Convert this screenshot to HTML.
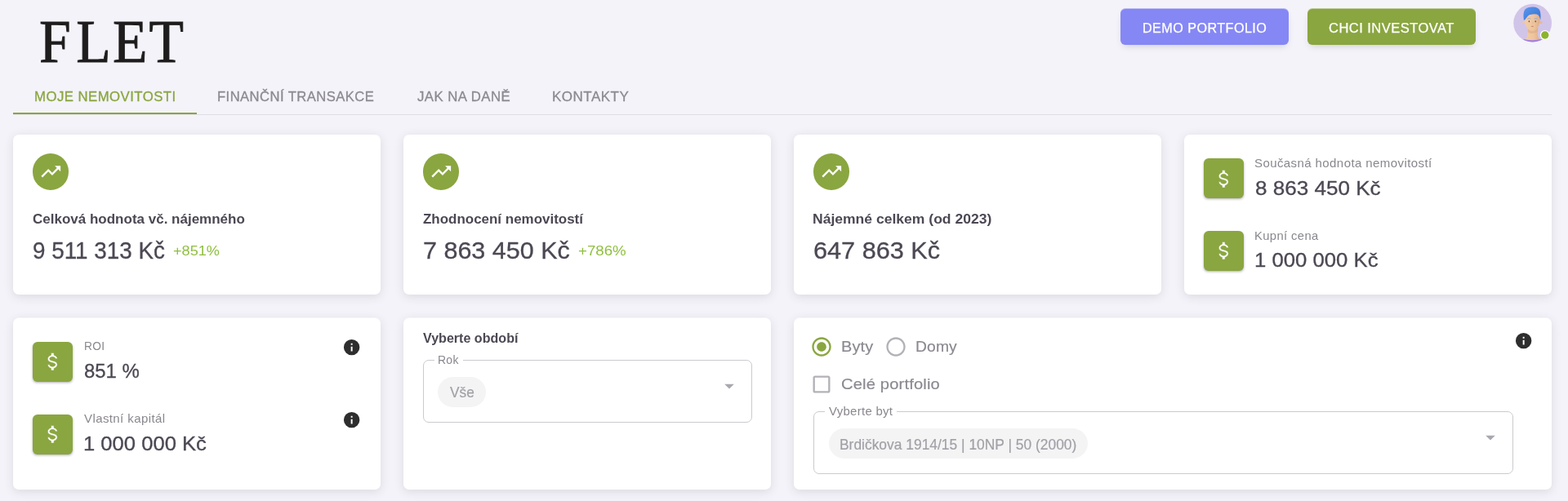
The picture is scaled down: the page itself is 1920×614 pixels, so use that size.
<!DOCTYPE html>
<html lang="cs">
<head>
<meta charset="utf-8">
<title>FLET</title>
<style>
*{box-sizing:border-box;margin:0;padding:0}
html,body{width:1920px;height:614px;overflow:hidden}
body{position:relative;background:#f4f3f9;font-family:"Liberation Sans",sans-serif;color:#4c4853}
.a{position:absolute;white-space:nowrap;line-height:1;transform-origin:0 0}
.logo{font-family:"Liberation Serif",serif;color:#1e1c1c;letter-spacing:2.4px;-webkit-text-stroke:.9px #1e1c1c}
.logo::first-letter{letter-spacing:7px}
.btn{position:absolute;top:11px;height:44px;width:206px;border-radius:6px}
.bt{letter-spacing:.45px;color:#fff;-webkit-text-stroke:.25px #fff}
.tab{letter-spacing:.45px;color:#8c8991;-webkit-text-stroke:.3px currentColor}
.on{color:#8aa640}
.card{position:absolute;width:450px;background:#fff;border-radius:7px;box-shadow:0 2.4px 11.7px 0 rgba(58,53,65,.125)}
.r1{top:164.7px;height:196.5px}
.r2{top:390px;height:210px;box-shadow:0 -1px 0 0 rgba(255,255,255,.5),0 2.4px 11.7px 0 rgba(58,53,65,.125)}
.circ{position:absolute;width:44.5px;height:44.5px;border-radius:50%;background:#8aa640;top:188.3px}
.sq{position:absolute;width:49px;height:49px;border-radius:6px;background:#8aa640;box-shadow:0 1.5px 3px -.5px rgba(58,53,65,.4)}
.t6{font-weight:bold;color:#4c4853}
.h5{color:#4c4853;-webkit-text-stroke:.3px currentColor}
.h6{color:#4c4853;-webkit-text-stroke:.3px currentColor}
.cap{color:#8a878e;letter-spacing:.4px}
.pct{color:#8fbf3f}
.b1{letter-spacing:.15px;color:#8c8991;-webkit-text-stroke:.2px currentColor}
.lbl{color:#8a878e;letter-spacing:.3px}
.lg{position:absolute;background:#fff;height:3px}
.sel{position:absolute;border:1.2px solid #cbcacf;border-radius:7px}
.chip{position:absolute;height:37px;border-radius:19px;background:#f4f4f5}
.chipt{color:#a2a0a6;-webkit-text-stroke:.2px currentColor}
</style>
</head>
<body>
<header>
<div id="logo" class="a logo" style="left:47.71px;top:14px;font-size:74.4px;transform:scaleX(0.9344)">FLET</div>
<div class="btn" style="left:1372px;background:#8587f5;box-shadow:0 -1px 0 0 rgba(133,135,245,.5),0 4.7px 9.3px -4.7px rgba(58,53,65,.27)"></div>
<div id="b1" class="a bt" style="left:1399.14px;top:26px;font-size:16.3px;transform:scaleX(0.9923)">DEMO PORTFOLIO</div>
<div class="btn" style="left:1601px;background:#8aa640;box-shadow:0 -1px 0 0 rgba(138,166,64,.5),0 4.7px 9.3px -4.7px rgba(58,53,65,.27)"></div>
<div id="b2" class="a bt" style="left:1627.08px;top:26px;font-size:16.3px;transform:scaleX(1.0158)">CHCI INVESTOVAT</div>
<svg class="a" style="left:1846px;top:0" width="60" height="56" viewBox="0 0 60 56">
  <defs>
    <clipPath id="av"><circle cx="30.65" cy="28.2" r="23.4"/></clipPath>
    <linearGradient id="hr" x1="0" y1="0" x2="1" y2="1"><stop offset="0" stop-color="#5c98ec"/><stop offset=".55" stop-color="#4482df"/><stop offset="1" stop-color="#3a74d2"/></linearGradient>
    <linearGradient id="sk" x1="0" y1="0" x2="1" y2="0"><stop offset="0" stop-color="#f2cda8"/><stop offset=".6" stop-color="#eec49d"/><stop offset="1" stop-color="#dcae88"/></linearGradient>
  </defs>
  <circle cx="30.65" cy="28.2" r="23.4" fill="#d1c4e9"/>
  <g clip-path="url(#av)">
    <path d="M18.5 48.6 Q30.5 45.5 43.5 48.6 L44 56 L18 56Z" fill="#a17fe2"/>
    <path d="M24.6 33 L24.2 43.5 Q23.6 46.8 21.2 48.3 Q30.5 50.2 39.4 48.3 Q37.2 46.6 37 43.5 L37.2 33Z" fill="url(#sk)"/>
    <path d="M24.8 35.5 Q30.5 40.5 37.1 35 L37.1 38.5 Q31 43 24.6 39.5Z" fill="#d9a985" opacity=".55"/>
    <circle cx="19.9" cy="27.4" r="1.6" fill="#efc6a0"/><circle cx="40.9" cy="27.4" r="1.6" fill="#e6b994"/>
    <path d="M20.8 20 Q20.6 28.5 23 32.6 Q26 37 30.3 37.2 Q34.8 37 37.6 32.6 Q40 28.5 39.8 20 Q30 13 20.8 20Z" fill="url(#sk)"/>
    <path d="M19.9 24.8 Q18.6 15.5 21.2 11.8 Q24.5 8.4 31 8.5 Q37.6 8.7 39.6 13 Q41 17 40.3 24.6 Q39.6 20.5 37.6 18.4 Q36 17.2 31 17.4 Q26.6 17.4 25 19.4 Q23 21.6 21.6 24 Z" fill="url(#hr)"/>
    <path d="M24.6 22.9 Q26.3 22.2 28 22.9" stroke="#8fa6dc" stroke-width=".9" fill="none" stroke-linecap="round"/>
    <path d="M32.8 22.9 Q34.5 22.2 36.2 22.9" stroke="#8fa6dc" stroke-width=".9" fill="none" stroke-linecap="round"/>
    <ellipse cx="26.4" cy="26.2" rx=".75" ry="1" fill="#5b4a44"/><ellipse cx="34.2" cy="26.2" rx=".75" ry="1" fill="#5b4a44"/>
    <path d="M28.6 32 Q30.3 31.5 32.2 32 Q30.4 33.9 28.6 32Z" fill="#b98267"/>
    <path d="M30.8 26.5 Q31.6 28.6 30.6 29.4" stroke="#e0b28c" stroke-width=".7" fill="none"/>
  </g>
  <circle cx="45.8" cy="43" r="6" fill="#fff"/>
  <circle cx="45.8" cy="43" r="4.7" fill="#8bb42c"/>
</svg>
</header>
<nav>
<div class="a" style="left:16.3px;top:140px;width:1884px;height:1.2px;background:#dfdee4"></div>
<div class="a" style="left:16.3px;top:138px;width:224.5px;height:2.4px;background:#8aa640"></div>
<div id="t1" class="a tab on" style="left:41.57px;top:110px;font-size:16.3px;transform:scaleX(1.0288)">MOJE NEMOVITOSTI</div>
<div id="t2" class="a tab" style="left:265.93px;top:110px;font-size:16.3px;transform:scaleX(1.0190)">FINANČNÍ TRANSAKCE</div>
<div id="t3" class="a tab" style="left:510.51px;top:110px;font-size:16.3px;transform:scaleX(1.0300)">JAK NA DANĚ</div>
<div id="t4" class="a tab" style="left:676.48px;top:110px;font-size:16.3px;transform:scaleX(1.0451)">KONTAKTY</div>
</nav>
<main>
<section>
<div class="card r1" style="left:16.2px"></div>
<div class="circ" style="left:39.7px"></div><svg class="a" style="left:47.7px;top:196.2px" width="28.5" height="28.5" viewBox="0 0 24 24"><path fill="#fff" d="M16,6L18.29,8.29L13.41,13.17L9.41,9.17L2,16.59L3.41,18L9.41,12L13.41,16L19.71,9.71L22,12V6H16Z"/></svg>
<div id="c1t" class="a t6" style="left:40.46px;top:260px;font-size:16.5px;transform:scaleX(1.0306)">Celková hodnota vč. nájemného</div>
<div id="c1n" class="a h5" style="left:39.53px;top:292px;font-size:29.3px;transform:scaleX(0.9493)">9 511 313 Kč</div>
<div id="c1p" class="a pct" style="left:212.14px;top:299px;font-size:17.3px;transform:scaleX(1.0494)">+851%</div>
</section>
<section>
<div class="card r1" style="left:494.2px"></div>
<div class="circ" style="left:517.7px"></div><svg class="a" style="left:525.7px;top:196.2px" width="28.5" height="28.5" viewBox="0 0 24 24"><path fill="#fff" d="M16,6L18.29,8.29L13.41,13.17L9.41,9.17L2,16.59L3.41,18L9.41,12L13.41,16L19.71,9.71L22,12V6H16Z"/></svg>
<div id="c2t" class="a t6" style="left:518.18px;top:260px;font-size:16.5px;transform:scaleX(1.0276)">Zhodnocení nemovitostí</div>
<div id="c2n" class="a h5" style="left:517.82px;top:292px;font-size:29.3px;transform:scaleX(1.0412)">7 863 450 Kč</div>
<div id="c2p" class="a pct" style="left:707.57px;top:299px;font-size:17.3px;transform:scaleX(1.0814)">+786%</div>
</section>
<section>
<div class="card r1" style="left:972.2px"></div>
<div class="circ" style="left:995.7px"></div><svg class="a" style="left:1003.7px;top:196.2px" width="28.5" height="28.5" viewBox="0 0 24 24"><path fill="#fff" d="M16,6L18.29,8.29L13.41,13.17L9.41,9.17L2,16.59L3.41,18L9.41,12L13.41,16L19.71,9.71L22,12V6H16Z"/></svg>
<div id="c3t" class="a t6" style="left:995.09px;top:260px;font-size:16.5px;transform:scaleX(1.0626)">Nájemné celkem (od 2023)</div>
<div id="c3n" class="a h5" style="left:995.64px;top:292px;font-size:29.3px;transform:scaleX(1.0462)">647 863 Kč</div>
</section>
<section>
<div class="card r1" style="left:1450.2px"></div>
<div class="sq" style="left:1473.8px;top:194.1px"></div><svg class="a" style="left:1484.0px;top:204.5px" width="28.6" height="28.6" viewBox="0 0 24 24"><path fill="#fff" d="M7,15H9C9,16.08 10.37,17 12,17C13.63,17 15,16.08 15,15C15,13.9 13.96,13.5 11.76,12.97C9.64,12.44 7,11.78 7,9C7,7.21 8.47,5.69 10.5,5.18V3H13.5V5.18C15.53,5.69 17,7.21 17,9H15C15,7.92 13.63,7 12,7C10.37,7 9,7.92 9,9C9,10.1 10.04,10.5 12.24,11.03C14.36,11.56 17,12.22 17,15C17,16.79 15.53,18.31 13.5,18.82V21H10.5V18.82C8.47,18.31 7,16.79 7,15Z" stroke="#8aa640" stroke-width=".5"/></svg>
<div id="c4c1" class="a cap" style="left:1536.32px;top:193px;font-size:14.8px;transform:scaleX(1.0147)">Současná hodnota nemovitostí</div>
<div id="c4v1" class="a h6" style="left:1536.76px;top:220px;font-size:23.4px;transform:scaleX(1.1144)">8 863 450 Kč</div>
<div class="sq" style="left:1473.8px;top:283.0px"></div><svg class="a" style="left:1484.0px;top:293.4px" width="28.6" height="28.6" viewBox="0 0 24 24"><path fill="#fff" d="M7,15H9C9,16.08 10.37,17 12,17C13.63,17 15,16.08 15,15C15,13.9 13.96,13.5 11.76,12.97C9.64,12.44 7,11.78 7,9C7,7.21 8.47,5.69 10.5,5.18V3H13.5V5.18C15.53,5.69 17,7.21 17,9H15C15,7.92 13.63,7 12,7C10.37,7 9,7.92 9,9C9,10.1 10.04,10.5 12.24,11.03C14.36,11.56 17,12.22 17,15C17,16.79 15.53,18.31 13.5,18.82V21H10.5V18.82C8.47,18.31 7,16.79 7,15Z" stroke="#8aa640" stroke-width=".5"/></svg>
<div id="c4c2" class="a cap" style="left:1536.16px;top:282px;font-size:14.8px;transform:scaleX(0.9965)">Kupní cena</div>
<div id="c4v2" class="a h6" style="left:1535.78px;top:308px;font-size:23.4px;transform:scaleX(1.0992)">1 000 000 Kč</div>
</section>
<section>
<div class="card r2" style="left:16.2px"></div>
<div class="sq" style="left:39.9px;top:418.7px"></div><svg class="a" style="left:50.1px;top:429.1px" width="28.6" height="28.6" viewBox="0 0 24 24"><path fill="#fff" d="M7,15H9C9,16.08 10.37,17 12,17C13.63,17 15,16.08 15,15C15,13.9 13.96,13.5 11.76,12.97C9.64,12.44 7,11.78 7,9C7,7.21 8.47,5.69 10.5,5.18V3H13.5V5.18C15.53,5.69 17,7.21 17,9H15C15,7.92 13.63,7 12,7C10.37,7 9,7.92 9,9C9,10.1 10.04,10.5 12.24,11.03C14.36,11.56 17,12.22 17,15C17,16.79 15.53,18.31 13.5,18.82V21H10.5V18.82C8.47,18.31 7,16.79 7,15Z" stroke="#8aa640" stroke-width=".5"/></svg>
<div id="c5c1" class="a cap" style="left:102.82px;top:417px;font-size:14.8px;transform:scaleX(0.9269)">ROI</div>
<div id="c5v1" class="a h6" style="left:102.77px;top:444px;font-size:23.4px;transform:scaleX(1.0212)">851 %</div>
<svg class="a" style="left:419.2px;top:414.3px" width="23.3" height="23.3" viewBox="0 0 24 24"><path fill="#2e2e2e" d="M13,9H11V7H13M13,17H11V11H13M12,2A10,10 0 0,0 2,12A10,10 0 0,0 12,22A10,10 0 0,0 22,12A10,10 0 0,0 12,2Z"/></svg>
<div class="sq" style="left:39.9px;top:507.6px"></div><svg class="a" style="left:50.1px;top:518.0px" width="28.6" height="28.6" viewBox="0 0 24 24"><path fill="#fff" d="M7,15H9C9,16.08 10.37,17 12,17C13.63,17 15,16.08 15,15C15,13.9 13.96,13.5 11.76,12.97C9.64,12.44 7,11.78 7,9C7,7.21 8.47,5.69 10.5,5.18V3H13.5V5.18C15.53,5.69 17,7.21 17,9H15C15,7.92 13.63,7 12,7C10.37,7 9,7.92 9,9C9,10.1 10.04,10.5 12.24,11.03C14.36,11.56 17,12.22 17,15C17,16.79 15.53,18.31 13.5,18.82V21H10.5V18.82C8.47,18.31 7,16.79 7,15Z" stroke="#8aa640" stroke-width=".5"/></svg>
<div id="c5c2" class="a cap" style="left:103.30px;top:506px;font-size:14.8px;transform:scaleX(1.0137)">Vlastní kapitál</div>
<div id="c5v2" class="a h6" style="left:102.11px;top:533px;font-size:23.4px;transform:scaleX(1.0945)">1 000 000 Kč</div>
<svg class="a" style="left:419.2px;top:503.1px" width="23.3" height="23.3" viewBox="0 0 24 24"><path fill="#2e2e2e" d="M13,9H11V7H13M13,17H11V11H13M12,2A10,10 0 0,0 2,12A10,10 0 0,0 12,22A10,10 0 0,0 22,12A10,10 0 0,0 12,2Z"/></svg>
</section>
<section>
<div class="card r2" style="left:494.2px"></div>
<div id="c6t" class="a t6" style="left:518.04px;top:406px;font-size:16.5px;transform:scaleX(0.9746)">Vyberte období</div>
<div class="sel" style="left:518px;top:441.3px;width:403px;height:76.5px"></div><div class="lg" style="left:531.5px;top:440px;width:35.5px"></div>
<div id="c6l" class="a lbl" style="left:535.67px;top:434px;font-size:14.8px;transform:scaleX(0.9421)">Rok</div>
<div class="chip" style="left:536.4px;top:462px;width:58.4px"></div>
<div id="c6c" class="a chipt" style="left:550.78px;top:473px;font-size:17.8px;transform:scaleX(0.9707)">Vše</div>
<svg class="a" style="left:879.0px;top:459.1px" width="28" height="28" viewBox="0 0 24 24"><path fill="#aaa8ae" d="M7 10l5 5 5-5z"/></svg>
</section>
<section>
<div class="card r2" style="left:972.2px;width:928px"></div>
<svg class="a" style="left:992.3px;top:410.5px" width="28" height="28" viewBox="0 0 24 24"><path fill="#8aa640" d="M12 7c-2.76 0-5 2.24-5 5s2.24 5 5 5 5-2.24 5-5-2.24-5-5-5zm0-5C6.48 2 2 6.48 2 12s4.48 10 10 10 10-4.48 10-10S17.52 2 12 2zm0 18c-4.42 0-8-3.58-8-8s3.58-8 8-8 8 3.58 8 8-3.58 8-8 8z"/></svg>
<div id="c7r1" class="a b1" style="left:1029.76px;top:415px;font-size:19.0px;transform:scaleX(1.0473)">Byty</div>
<svg class="a" style="left:1083.2px;top:410.5px" width="28" height="28" viewBox="0 0 24 24"><path fill="#b3b1b7" d="M12 2C6.48 2 2 6.48 2 12s4.48 10 10 10 10-4.48 10-10S17.52 2 12 2zm0 18c-4.42 0-8-3.58-8-8s3.58-8 8-8 8 3.58 8 8-3.58 8-8 8z"/></svg>
<div id="c7r2" class="a b1" style="left:1120.75px;top:415px;font-size:19.0px;transform:scaleX(1.0129)">Domy</div>
<svg class="a" style="left:992.3px;top:457.2px" width="28" height="28" viewBox="0 0 24 24"><path fill="#b3b1b7" d="M19 5v14H5V5h14m0-2H5c-1.1 0-2 .9-2 2v14c0 1.1.9 2 2 2h14c1.1 0 2-.9 2-2V5c0-1.1-.9-2-2-2z"/></svg>
<div id="c7cb" class="a b1" style="left:1029.65px;top:461px;font-size:19.0px;transform:scaleX(1.0602)">Celé portfolio</div>
<svg class="a" style="left:1853.6px;top:405.9px" width="23.3" height="23.3" viewBox="0 0 24 24"><path fill="#2e2e2e" d="M13,9H11V7H13M13,17H11V11H13M12,2A10,10 0 0,0 2,12A10,10 0 0,0 12,22A10,10 0 0,0 22,12A10,10 0 0,0 12,2Z"/></svg>
<div class="sel" style="left:995.8px;top:504.3px;width:857.5px;height:76.5px"></div><div class="lg" style="left:1009.5px;top:503px;width:88.5px"></div>
<div id="c7l" class="a lbl" style="left:1014.55px;top:497px;font-size:14.8px;transform:scaleX(1.0085)">Vyberte byt</div>
<div class="chip" style="left:1014.5px;top:525px;width:317.5px"></div>
<div id="c7c" class="a chipt" style="left:1027.55px;top:537px;font-size:17.8px;transform:scaleX(0.9790)">Brdičkova 1914/15 | 10NP | 50 (2000)</div>
<svg class="a" style="left:1811.0px;top:522.1px" width="28" height="28" viewBox="0 0 24 24"><path fill="#aaa8ae" d="M7 10l5 5 5-5z"/></svg>
</section>
</main>
</body>
</html>
